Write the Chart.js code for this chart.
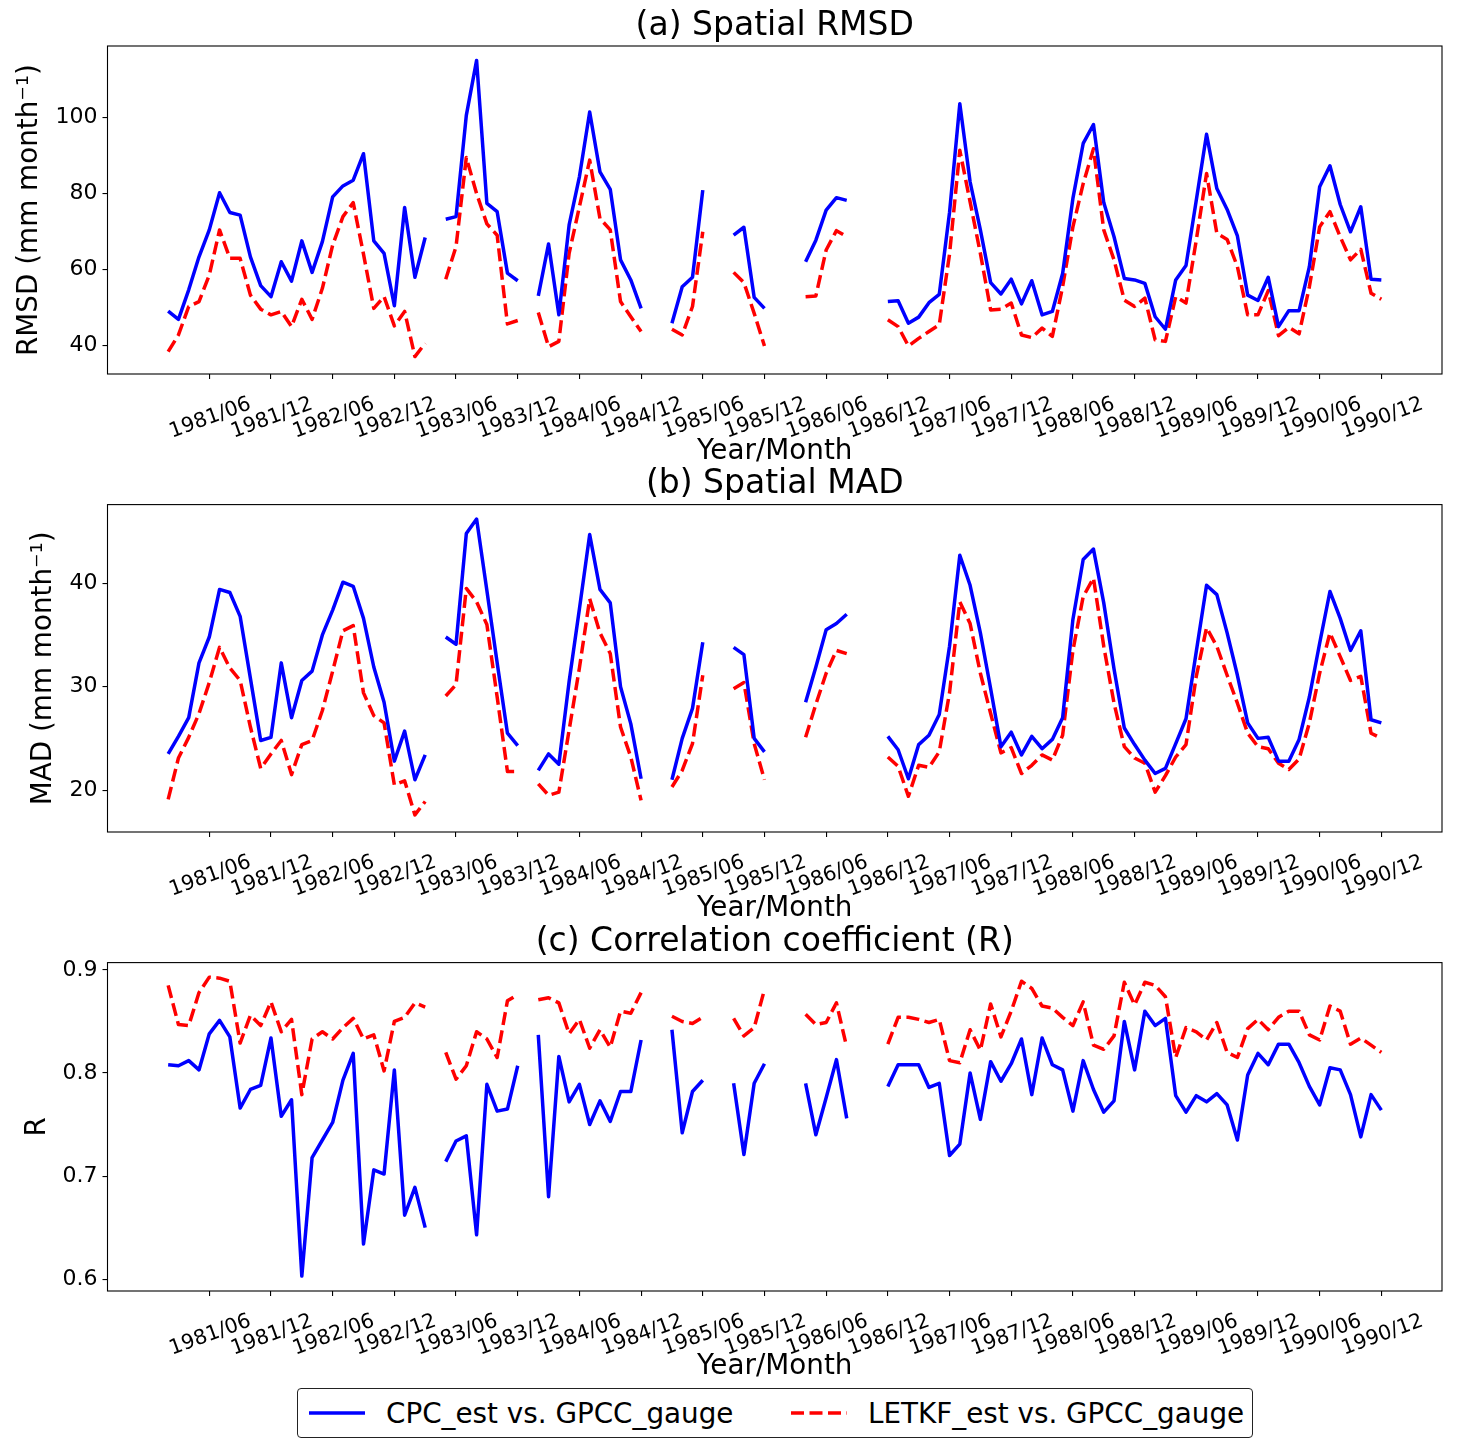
<!DOCTYPE html>
<html lang="en">
<head>
    <meta charset="UTF-8">
    <title>Spatial RMSD, MAD and R</title>
    <script src="https://cdn.jsdelivr.net/npm/chart.js@4.4.1/dist/chart.umd.min.js"></script>
    <style>
        body { margin: 0; background: #fff; }
        #page { position: relative; width: 1457px; height: 1456px; font-family: 'DejaVu Sans', sans-serif; }
        canvas { position: absolute; left: 0; }
        #legend {
            position: absolute; left: 297px; top: 1388px; width: 954px; height: 48px;
            border: 1px solid #222; border-radius: 4px; background: #fff;
        }
        #legend .item { position: absolute; top: 0; height: 48px; display: flex; align-items: center; font-size: 27.8px; color: #000; }
        #legend svg { position: absolute; top: 19px; }
    </style>
</head>
<body>
<div id="page">
    <canvas id="rmsd" width="1457" height="468" style="top:0px"></canvas>
    <canvas id="mad" width="1457" height="460" style="top:465px"></canvas>
    <canvas id="corr" width="1457" height="460" style="top:923px"></canvas>
    <div id="legend">
        <svg width="58" height="10" style="left:10px"><line x1="1" y1="5" x2="57" y2="5" stroke="#0000ff" stroke-width="3.5"/></svg>
        <div class="item" style="left:88px">CPC_est vs. GPCC_gauge</div>
        <svg width="58" height="10" style="left:492px"><line x1="1" y1="5" x2="57" y2="5" stroke="#ff0000" stroke-width="3.5" stroke-dasharray="13 5.5"/></svg>
        <div class="item" style="left:570px">LETKF_est vs. GPCC_gauge</div>
    </div>
</div>
<script>
    // months 1981/02 .. 1990/12
    const months = [];
    for (let y = 1981; y <= 1990; y++) {
        for (let m = (y === 1981 ? 2 : 1); m <= 12; m++) {
            months.push(y + '/' + String(m).padStart(2, '0'));
        }
    }

    const xTickLabels = ['1981/06', '1981/12', '1982/06', '1982/12', '1983/06', '1983/12', '1984/06', '1984/12',
        '1985/06', '1985/12', '1986/06', '1986/12', '1987/06', '1987/12', '1988/06', '1988/12',
        '1989/06', '1989/12', '1990/06', '1990/12'];

    // (a) spatial RMSD, one row per year (1981 starts in February)
    const cpcRmsd = [
        49.0, 46.8, 54.6, 63.3, 70.4, 80.2, 75.0, 74.3, 63.3, 55.7, 52.8,
        62.0, 56.9, 67.5, 59.2, 67.3, 79.1, 82.0, 83.5, 90.5, 67.5, 64.2, 50.4,
        76.3, 57.9, 68.4, null, 73.2, 73.9, 100.6, 115.1, 77.4, 75.2, 59.0, 57.0,
        null, 53.0, 66.7, 48.0, 71.7, 84.4, 101.5, 85.7, 81.1, 62.5, 57.2, 49.7,
        null, null, 45.8, 55.4, 57.9, 80.9, null, null, 69.0, 71.1, 52.6, 49.7,
        null, null, null, 62.0, 67.7, 75.6, 78.9, 78.2, null, null, null, 51.5,
        51.7, 45.8, 47.4, 51.2, 53.4, 75.0, 103.7, 83.1, 70.4, 56.5, 53.5, 57.4,
        50.9, 57.0, 48.0, 48.9, 58.9, 78.7, 93.2, 98.2, 77.6, 68.6, 57.6, 57.2,
        56.3, 47.5, 44.2, 57.2, 61.0, 78.2, 95.6, 81.3, 75.8, 68.8, 53.2, 51.8,
        57.9, 44.9, 49.1, 49.1, 60.7, 81.8, 87.3, 77.1, 69.9, 76.5, 57.4, 57.2
    ];
    const letkfRmsd = [
        38.3, 42.7, 50.2, 51.5, 58.5, 70.4, 62.9, 62.9, 53.2, 49.5, 48.0,
        48.9, 44.9, 52.1, 46.8, 55.0, 66.4, 73.9, 77.6, 64.0, 49.7, 52.8, 45.1,
        48.9, 37.0, 40.5, null, 57.4, 66.0, 89.5, 80.0, 72.0, 69.0, 45.6, 46.5,
        null, 48.6, 39.6, 41.0, 64.2, 76.5, 88.8, 73.4, 70.4, 51.5, 47.5, 43.6,
        null, null, 44.2, 42.7, 50.2, 69.9, null, null, 59.2, 56.5, 48.4, 39.8,
        null, null, null, 52.8, 53.0, 65.1, 70.2, 68.6, null, null, null, 46.7,
        44.9, 39.8, 41.8, 43.6, 45.4, 64.0, 91.4, 77.8, 64.2, 49.3, 49.5, 51.1,
        42.7, 42.0, 44.5, 42.3, 55.4, 71.2, 82.6, 91.8, 70.4, 62.5, 51.9, 50.2,
        52.4, 41.4, 41.0, 52.8, 51.1, 67.7, 85.3, 69.5, 67.9, 60.7, 48.0, 48.0,
        54.4, 42.5, 44.7, 43.0, 55.4, 71.2, 75.2, 68.6, 62.5, 65.3, 53.7, 52.1
    ];
    const rmsdTicks = [40, 60, 80, 100];

    // (b) spatial MAD
    const cpcMad = [
        23.5, 25.2, 27.0, 32.3, 34.8, 39.4, 39.1, 36.8, 30.8, 24.8, 25.1,
        32.3, 27.0, 30.6, 31.5, 35.0, 37.4, 40.1, 39.7, 36.6, 31.9, 28.5, 22.8,
        25.7, 21.0, 23.4, null, 34.8, 34.1, 44.8, 46.2, 39.3, 32.3, 25.5, 24.3,
        null, 21.9, 23.5, 22.5, 30.5, 37.5, 44.7, 39.4, 38.1, 30.0, 26.4, 21.1,
        null, null, 21.0, 25.0, 27.9, 34.3, null, null, 33.8, 33.1, 25.0, 23.7,
        null, null, null, 28.5, 31.9, 35.5, 36.1, 37.0, null, null, null, 25.2,
        23.9, 21.1, 24.4, 25.3, 27.3, 33.9, 42.7, 39.8, 35.2, 29.8, 24.2, 25.6,
        23.4, 25.2, 24.0, 24.9, 27.0, 36.5, 42.3, 43.3, 38.1, 31.7, 26.0, 24.4,
        22.9, 21.6, 22.1, 24.5, 26.9, 33.4, 39.8, 38.9, 35.2, 31.1, 26.5, 25.0,
        25.1, 22.8, 22.8, 24.9, 29.0, 34.2, 39.2, 36.6, 33.5, 35.4, 26.8, 26.5
    ];
    const letkfMad = [
        19.1, 23.1, 25.1, 27.4, 30.4, 33.8, 31.8, 30.6, 26.1, 22.1, 23.5,
        24.8, 21.5, 24.4, 24.8, 27.7, 31.5, 35.4, 35.9, 29.4, 27.2, 26.5, 20.5,
        20.9, 17.6, 18.9, null, 29.1, 30.2, 39.5, 38.2, 36.0, 29.0, 21.8, 21.8,
        null, 20.6, 19.5, 19.8, 25.8, 31.8, 38.5, 35.2, 33.2, 26.1, 23.2, 19.0,
        null, null, 20.3, 21.9, 24.5, 31.1, null, null, 29.8, 30.4, 24.5, 21.0,
        null, null, null, 25.1, 28.3, 31.3, 33.5, 33.2, null, null, null, 23.2,
        22.3, 19.4, 22.4, 22.2, 23.7, 29.4, 38.2, 36.1, 31.3, 27.4, 23.6, 24.1,
        21.6, 22.4, 23.4, 22.9, 25.3, 33.5, 38.7, 40.5, 33.9, 28.4, 24.2, 23.1,
        22.6, 19.8, 21.4, 23.2, 24.4, 31.0, 35.7, 33.9, 31.1, 28.4, 25.5, 24.2,
        24.0, 22.6, 22.0, 23.0, 26.5, 31.3, 35.2, 32.9, 30.6, 31.0, 25.5, 25.0
    ];
    const madTicks = [20, 30, 40];

    // (c) correlation coefficient
    const cpcR = [
        0.808, 0.807, 0.812, 0.803, 0.838, 0.851, 0.835, 0.766, 0.784, 0.788, 0.834,
        0.758, 0.774, 0.603, 0.718, 0.735, 0.752, 0.793, 0.819, 0.634, 0.706, 0.702, 0.803,
        0.662, 0.689, 0.650, null, 0.714, 0.734, 0.739, 0.643, 0.789, 0.763, 0.765, 0.807,
        null, 0.837, 0.680, 0.816, 0.772, 0.789, 0.750, 0.773, 0.753, 0.782, 0.782, 0.832,
        null, null, 0.842, 0.742, 0.782, 0.793, null, null, 0.790, 0.721, 0.790, 0.809,
        null, null, null, 0.790, 0.740, 0.776, 0.813, 0.756, null, null, null, 0.787,
        0.808, 0.808, 0.808, 0.786, 0.790, 0.720, 0.731, 0.800, 0.755, 0.811, 0.792, 0.809,
        0.833, 0.779, 0.834, 0.808, 0.803, 0.763, 0.812, 0.784, 0.762, 0.773, 0.850, 0.803,
        0.860, 0.846, 0.853, 0.778, 0.762, 0.778, 0.772, 0.780, 0.769, 0.735, 0.798, 0.819,
        0.808, 0.828, 0.828, 0.810, 0.787, 0.769, 0.805, 0.803, 0.779, 0.738, 0.779, 0.764
    ];
    const letkfR = [
        0.885, 0.847, 0.846, 0.878, 0.893, 0.892, 0.889, 0.829, 0.856, 0.846, 0.869,
        0.840, 0.852, 0.779, 0.833, 0.840, 0.833, 0.844, 0.853, 0.833, 0.837, 0.802, 0.850,
        0.854, 0.868, 0.864, null, 0.820, 0.794, 0.807, 0.840, 0.833, 0.815, 0.870, 0.876,
        null, 0.871, 0.873, 0.868, 0.838, 0.852, 0.824, 0.842, 0.825, 0.860, 0.858, 0.878,
        null, null, 0.855, 0.850, 0.848, 0.854, null, null, 0.853, 0.836, 0.844, 0.881,
        null, null, null, 0.857, 0.847, 0.849, 0.868, 0.825, null, null, null, 0.828,
        0.854, 0.854, 0.852, 0.849, 0.852, 0.812, 0.810, 0.842, 0.822, 0.867, 0.835, 0.860,
        0.889, 0.882, 0.865, 0.863, 0.854, 0.846, 0.869, 0.827, 0.823, 0.836, 0.888, 0.866,
        0.888, 0.885, 0.874, 0.815, 0.844, 0.840, 0.832, 0.849, 0.820, 0.815, 0.843, 0.852,
        0.842, 0.854, 0.860, 0.860, 0.837, 0.832, 0.865, 0.860, 0.828, 0.834, 0.827, 0.820
    ];
    const rTicks = [0.6, 0.7, 0.8, 0.9];

    Chart.defaults.font.family = "'DejaVu Sans', sans-serif";
    Chart.defaults.color = '#000';

    // box around the plot area, like a matplotlib axes frame
    const framePlugin = {
        id: 'frame',
        afterDraw(chart) {
            const { ctx, chartArea: a } = chart;
            ctx.save();
            ctx.strokeStyle = '#000';
            ctx.lineWidth = 1.1;
            ctx.strokeRect(a.left, a.top, a.right - a.left, a.bottom - a.top);
            ctx.restore();
        }
    };

    const xTickIdx = xTickLabels.map(l => months.indexOf(l));
    const xPad = (months.length - 1) * 0.05;

    function toPoints(arr) {
        return arr.map((v, i) => ({ x: i, y: v }));
    }

    function makePanel(id, title, yLabel, cpc, letkf, yTicks, yMin, yMax, opt) {
        new Chart(document.getElementById(id), {
            type: 'line',
            data: {
                datasets: [{
                    label: 'CPC_est vs. GPCC_gauge',
                    data: toPoints(cpc),
                    borderColor: '#0000ff',
                    borderWidth: 3.5,
                    pointRadius: 0,
                    borderJoinStyle: 'round'
                }, {
                    label: 'LETKF_est vs. GPCC_gauge',
                    data: toPoints(letkf),
                    borderColor: '#ff0000',
                    borderWidth: 3.5,
                    borderDash: [13, 5.5],
                    pointRadius: 0,
                    borderJoinStyle: 'round'
                }]
            },
            options: {
                responsive: false,
                animation: false,
                events: [],
                layout: { padding: { left: 0, right: 15, top: opt.padTop, bottom: 0 } },
                plugins: {
                    legend: { display: false },
                    tooltip: { enabled: false },
                    title: {
                        display: true,
                        fullSize: false,   // centre it over the plot area
                        text: title,
                        font: { size: 33, weight: 'normal' },
                        padding: 0
                    }
                },
                scales: {
                    x: {
                        type: 'linear',
                        min: -xPad,
                        max: months.length - 1 + xPad,
                        border: { display: false },
                        grid: { drawOnChartArea: false, tickLength: 5, color: '#000', lineWidth: 1.1 },
                        afterBuildTicks: s => { s.ticks = xTickIdx.map(v => ({ value: v })); },
                        afterFit: s => { s.height = opt.xHeight; },
                        ticks: {
                            autoSkip: false,
                            minRotation: 20,
                            maxRotation: 20,
                            labelOffset: 41,
                            padding: 13,
                            font: { size: 20.5 },
                            callback: v => months[v]
                        },
                        title: { display: true, text: 'Year/Month', font: { size: 27.8 }, padding: 0 }
                    },
                    y: {
                        min: yMin,
                        max: yMax,
                        border: { display: false },
                        grid: { drawOnChartArea: false, tickLength: 5, color: '#000', lineWidth: 1.1 },
                        afterBuildTicks: s => { s.ticks = yTicks.map(v => ({ value: v })); },
                        afterFit: s => { s.width = 107.5; },
                        ticks: { padding: 5, font: { size: 22 }, callback: v => String(v) },
                        title: { display: true, text: yLabel, font: { size: 27.8 }, padding: { top: opt.yTitlePad, bottom: 0 } }
                    }
                }
            },
            plugins: [framePlugin]
        });
    }

    makePanel('rmsd', '(a) Spatial RMSD', 'RMSD (mm month\u207B\u00B9)', cpcRmsd, letkfRmsd, rmsdTicks, 32.4, 118.9,
        { padTop: 6.4, xHeight: 94, yTitlePad: 13 });
    makePanel('mad', '(b) Spatial MAD', 'MAD (mm month\u207B\u00B9)', cpcMad, letkfMad, madTicks, 15.95, 47.6,
        { padTop: 0, xHeight: 93, yTitlePad: 27 });
    makePanel('corr', '(c) Correlation coefficient (R)', 'R', cpcR, letkfR, rTicks, 0.5885, 0.9071,
        { padTop: 0, xHeight: 92, yTitlePad: 21 });
</script>
</body>
</html>
